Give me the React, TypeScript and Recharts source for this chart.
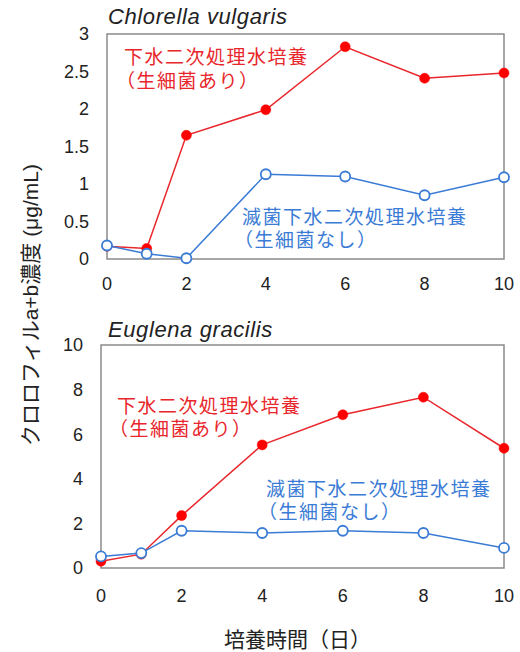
import React from 'react';
import { LineChart, Line, XAxis, YAxis, ReferenceArea } from 'recharts';

const days = [0, 1, 2, 4, 6, 8, 10];
const chlorellaWithBacteria = [0.17, 0.14, 1.65, 1.99, 2.83, 2.41, 2.48];
const chlorellaSterile = [0.18, 0.07, 0.01, 1.13, 1.1, 0.85, 1.09];
const euglenaWithBacteria = [0.3, 0.62, 2.35, 5.52, 6.87, 7.66, 5.37];
const euglenaSterile = [0.52, 0.67, 1.67, 1.57, 1.67, 1.57, 0.9];
const xTicks = [0, 2, 4, 6, 8, 10];
const chlorellaTicks = [0, 0.5, 1, 1.5, 2, 2.5, 3];
const euglenaTicks = [0, 2, 4, 6, 8, 10];

const RED = '#e8262b';
const BLUE = '#3a7bd5';
const FONT = 'Arial, "Liberation Sans", "Noto Sans CJK JP", sans-serif';

const toRows = (a: number[], b: number[]) =>
  days.map((d, i) => ({ day: d, bact: a[i], sterile: b[i] }));

const tickStyle = { fill: '#222', fontSize: 18, fontFamily: FONT };

type PanelProps = {
  rows: { day: number; bact: number; sterile: number }[];
  yMax: number;
  yTicks: number[];
  height: number;
  margin: { top: number; right: number; bottom: number; left: number };
  xTickMargin: number;
};

const Panel = ({ rows, yMax, yTicks, height, margin, xTickMargin }: PanelProps) => (
  <LineChart width={520} height={height} data={rows} margin={margin}>
    <XAxis
      dataKey="day"
      type="number"
      domain={[0, 10]}
      ticks={xTicks}
      tickLine={false}
      axisLine={false}
      tick={tickStyle}
      tickMargin={xTickMargin}
      height={30}
    />
    <YAxis
      type="number"
      domain={[0, yMax]}
      ticks={yTicks}
      tickLine={false}
      axisLine={false}
      tick={tickStyle}
      tickMargin={12}
      width={50}
      interval={0}
    />
    <ReferenceArea x1={0} x2={10} y1={0} y2={yMax} fill="none" stroke="#8a8a8a" strokeWidth={1.5} ifOverflow="visible" />
    <Line
      dataKey="bact"
      stroke={RED}
      strokeWidth={1.5}
      dot={{ r: 5, fill: '#ff0000', stroke: '#ff0000', strokeWidth: 0.5 }}
      isAnimationActive={false}
    />
    <Line
      dataKey="sterile"
      stroke={BLUE}
      strokeWidth={1.5}
      dot={{ r: 5, fill: '#fff', stroke: BLUE, strokeWidth: 1.8 }}
      isAnimationActive={false}
    />
  </LineChart>
);

const label = (text: string, x: number, y: number, color: string, extra: React.CSSProperties = {}) => (
  <div
    style={{
      position: 'absolute',
      left: x,
      top: y,
      color,
      fontFamily: FONT,
      fontSize: 19,
      letterSpacing: 1.5,
      whiteSpace: 'nowrap',
      lineHeight: '24px',
      ...extra,
    }}
  >
    {text}
  </div>
);

export default function App() {
  return (
    <div style={{ position: 'absolute', left: 0, top: 0, width: 520, height: 652, background: '#fff' }}>
      <div style={{ position: 'absolute', left: 0, top: 0 }}>
        <Panel
          rows={toRows(chlorellaWithBacteria, chlorellaSterile)}
          yMax={3}
          yTicks={chlorellaTicks}
          height={300}
          margin={{ top: 34, right: 16, bottom: 11, left: 57 }}
          xTickMargin={12}
        />
      </div>
      <div style={{ position: 'absolute', left: 0, top: 300 }}>
        <Panel
          rows={toRows(euglenaWithBacteria, euglenaSterile)}
          yMax={10}
          yTicks={euglenaTicks}
          height={320}
          margin={{ top: 45, right: 16, bottom: 22, left: 51 }}
          xTickMargin={15}
        />
      </div>
      {label('Chlorella vulgaris', 108, 5, '#222', { fontStyle: 'italic', fontSize: 22, letterSpacing: 0.6 })}
      {label('Euglena gracilis', 108, 318, '#222', { fontStyle: 'italic', fontSize: 22, letterSpacing: 0.6 })}
      {label('下水二次処理水培養', 124, 46, RED)}
      {label('（生細菌あり）', 116, 70, RED)}
      {label('滅菌下水二次処理水培養', 242, 206, BLUE)}
      {label('（生細菌なし）', 234, 229, BLUE)}
      {label('下水二次処理水培養', 117, 395, RED)}
      {label('（生細菌あり）', 109, 418, RED)}
      {label('滅菌下水二次処理水培養', 266, 478, BLUE)}
      {label('（生細菌なし）', 258, 501, BLUE)}
      <div
        style={{
          position: 'absolute',
          left: 29,
          top: 305,
          transform: 'translate(-50%, -50%) rotate(-90deg)',
          fontFamily: FONT,
          fontSize: 21,
          color: '#222',
          whiteSpace: 'nowrap',
        }}
      >
        クロロフィルa+b濃度 (μg/mL)
      </div>
      {label('培養時間（日）', 224, 628, '#222', { fontSize: 21, letterSpacing: 0 })}
    </div>
  );
}
